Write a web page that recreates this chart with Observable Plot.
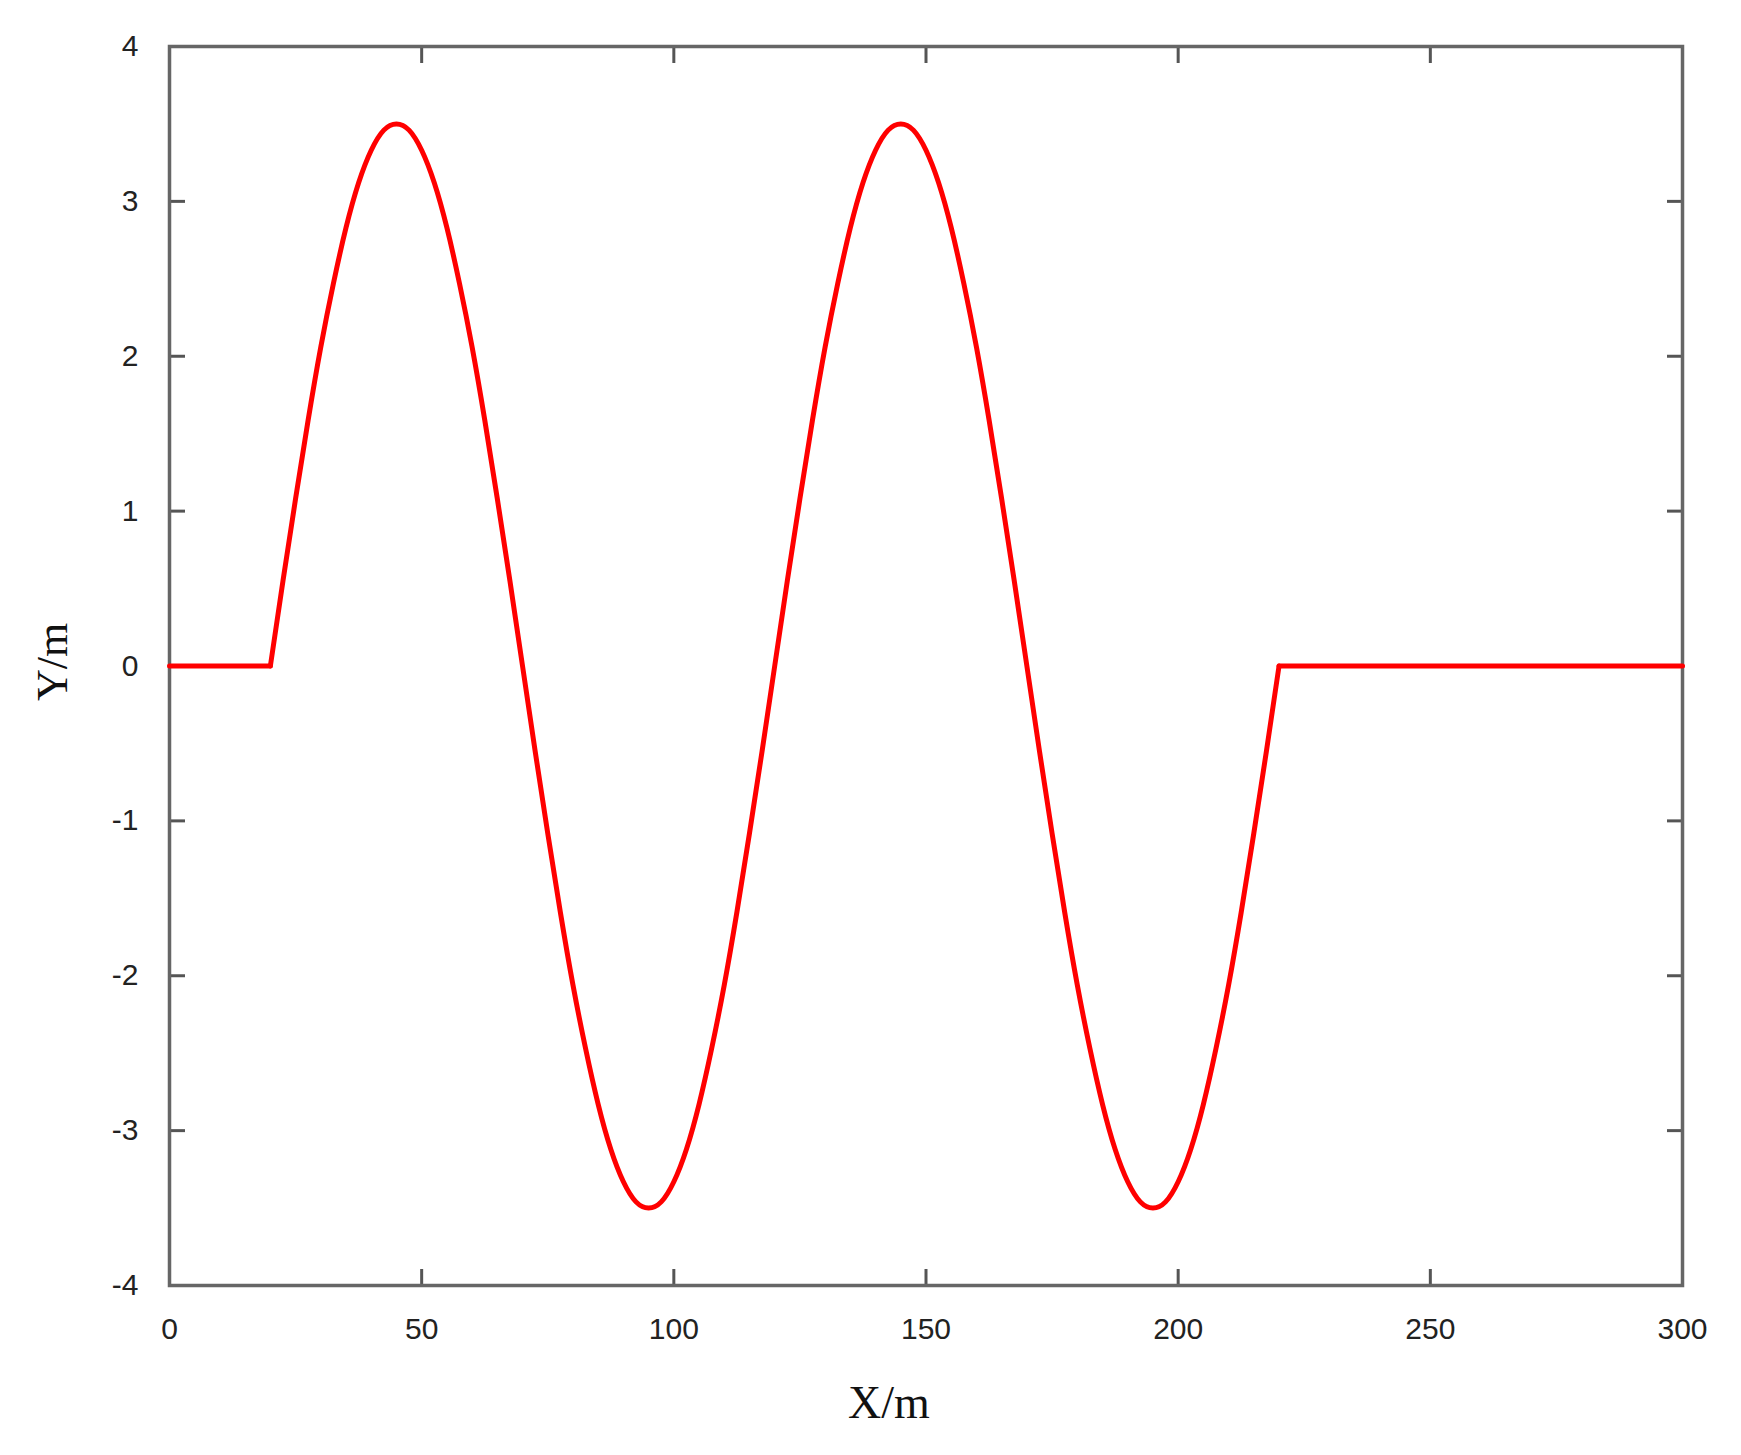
<!DOCTYPE html>
<html><head><meta charset="utf-8">
<script src="https://cdn.jsdelivr.net/npm/d3@7"></script>
<script src="https://cdn.jsdelivr.net/npm/@observablehq/plot@0.6"></script>
<style>body{margin:0;background:#fff}</style>
</head><body><div id="chart"></div>
<script>
const xTicks = [0, 50, 100, 150, 200, 250, 300];
const yTicks = [-4, -3, -2, -1, 0, 1, 2, 3, 4];

// flat lead-in before the lane change
const leadX = [0, 20];
const leadY = [0, 0];

// oscillating path (X/m, Y/m)
const waveX = [20, 22.5, 25, 27.5, 30, 32.5, 35, 37.5, 40, 42.5, 45, 47.5, 50, 52.5, 55, 57.5, 60, 62.5, 65, 67.5,
  70, 72.5, 75, 77.5, 80, 82.5, 85, 87.5, 90, 92.5, 95, 97.5, 100, 102.5, 105, 107.5, 110, 112.5, 115, 117.5,
  120, 122.5, 125, 127.5, 130, 132.5, 135, 137.5, 140, 142.5, 145, 147.5, 150, 152.5, 155, 157.5, 160, 162.5, 165, 167.5,
  170, 172.5, 175, 177.5, 180, 182.5, 185, 187.5, 190, 192.5, 195, 197.5, 200, 202.5, 205, 207.5, 210, 212.5, 215, 217.5, 220];
const waveY = [0, 0.55, 1.08, 1.59, 2.06, 2.47, 2.83, 3.12, 3.33, 3.46, 3.5, 3.46, 3.33, 3.12, 2.83, 2.47, 2.06, 1.59, 1.08, 0.55,
  0, -0.55, -1.08, -1.59, -2.06, -2.47, -2.83, -3.12, -3.33, -3.46, -3.5, -3.46, -3.33, -3.12, -2.83, -2.47, -2.06, -1.59, -1.08, -0.55,
  0, 0.55, 1.08, 1.59, 2.06, 2.47, 2.83, 3.12, 3.33, 3.46, 3.5, 3.46, 3.33, 3.12, 2.83, 2.47, 2.06, 1.59, 1.08, 0.55,
  0, -0.55, -1.08, -1.59, -2.06, -2.47, -2.83, -3.12, -3.33, -3.46, -3.5, -3.46, -3.33, -3.12, -2.83, -2.47, -2.06, -1.59, -1.08, -0.55, 0];

// flat tail after the manoeuvre
const tailX = [220, 300];
const tailY = [0, 0];

const rows = [];
leadX.forEach((x, i) => rows.push({x, y: leadY[i], seg: "lead"}));
waveX.forEach((x, i) => rows.push({x, y: waveY[i], seg: "wave"}));
tailX.forEach((x, i) => rows.push({x, y: tailY[i], seg: "tail"}));

const tickStroke = "#555";
const labelColor = "#222";
const plainFormat = d => String(d);

const chart = Plot.plot({
  width: 1741,
  height: 1455,
  marginLeft: 169,
  marginRight: 59,
  marginTop: 46,
  marginBottom: 170,
  style: {fontFamily: "'Liberation Sans', Arial, sans-serif", background: "#fff", color: labelColor},
  x: {domain: [0, 300]},
  y: {domain: [-4, 4]},
  marks: [
    Plot.axisX(xTicks, {anchor: "bottom", tickSize: -16, tickPadding: 48, stroke: tickStroke, strokeWidth: 3, fill: labelColor, fontSize: 30, tickFormat: plainFormat, label: null}),
    Plot.axisX(xTicks, {anchor: "top", tickSize: -16, stroke: tickStroke, strokeWidth: 3, tickFormat: () => "", label: null}),
    Plot.axisY(yTicks, {anchor: "left", tickSize: -16, tickPadding: 47, stroke: tickStroke, strokeWidth: 3, fill: labelColor, fontSize: 30, tickFormat: plainFormat, label: null}),
    Plot.axisY(yTicks, {anchor: "right", tickSize: -16, stroke: tickStroke, strokeWidth: 3, tickFormat: () => "", label: null}),
    Plot.frame({stroke: "#666", strokeWidth: 3.5}),
    Plot.line(rows, {x: "x", y: "y", z: "seg", stroke: "#ff0000", strokeWidth: 5, curve: "natural"}),
    Plot.text(["X/m"], {text: d => d, frameAnchor: "bottom", dy: 118, dx: -37, textAnchor: "middle", lineAnchor: "middle", fontSize: 46, fontFamily: "'Liberation Serif', 'Times New Roman', serif", fill: "#111"}),
    Plot.text(["Y/m"], {text: d => d, frameAnchor: "left", dx: -117, dy: -4, rotate: -90, textAnchor: "middle", lineAnchor: "middle", fontSize: 44, fontFamily: "'Liberation Serif', 'Times New Roman', serif", fill: "#111"})
  ]
});
document.getElementById("chart").appendChild(chart);
</script>
</body></html>
